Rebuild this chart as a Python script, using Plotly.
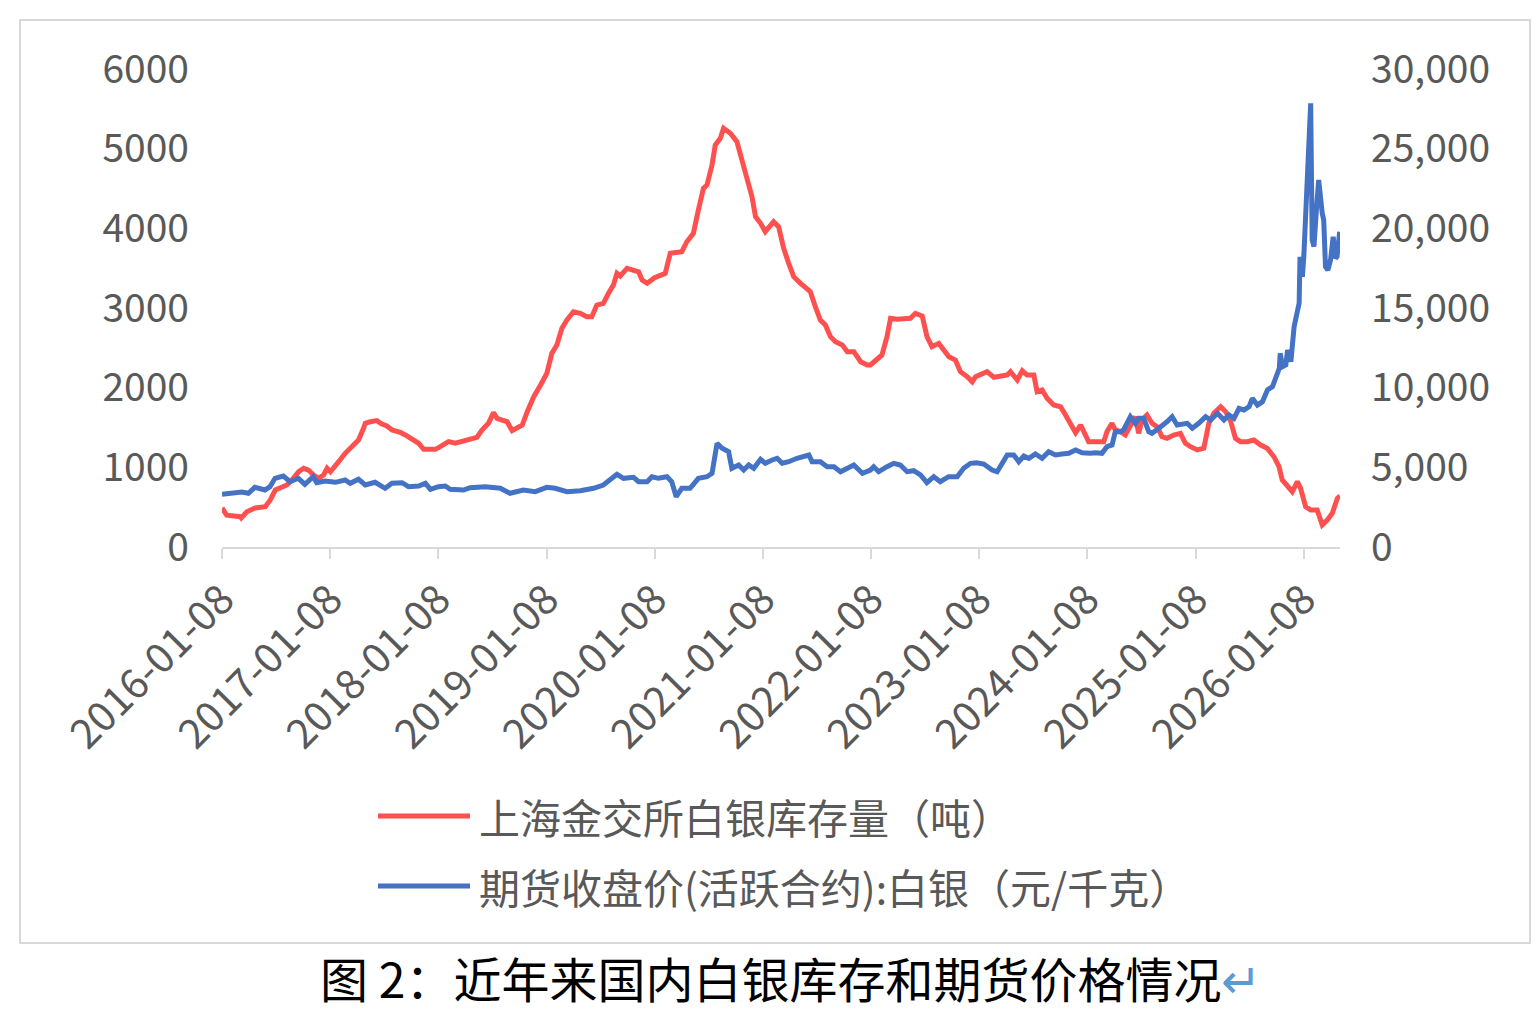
import plotly.graph_objects as go

# ---------------- data ----------------
inv_name = "上海金交所白银库存量（吨）"
price_name = "期货收盘价(活跃合约):白银（元/千克）"
caption = "图 2：近年来国内白银库存和期货价格情况"

inv_dates = [
    "2016-01-08", "2016-01-24", "2016-03-10", "2016-03-13", "2016-04-01", "2016-04-29", "2016-06-02",
    "2016-06-19", "2016-07-06", "2016-07-29", "2016-08-14", "2016-08-31", "2016-09-23", "2016-10-10",
    "2016-10-26", "2016-11-12", "2016-11-29", "2016-12-16", "2016-12-28",
    "2017-01-08", "2017-01-19", "2017-02-05", "2017-02-27", "2017-03-22", "2017-04-13", "2017-04-30",
    "2017-05-06", "2017-05-23", "2017-06-14", "2017-07-01", "2017-07-18", "2017-08-04", "2017-09-01",
    "2017-09-18", "2017-10-11", "2017-11-02", "2017-11-19", "2017-12-12", "2017-12-29",
    "2018-01-14", "2018-02-11", "2018-03-06", "2018-04-03", "2018-04-25", "2018-05-18", "2018-06-04",
    "2018-06-26", "2018-07-13", "2018-07-25", "2018-08-11", "2018-08-28", "2018-09-14", "2018-10-01",
    "2018-10-18", "2018-11-04", "2018-11-26", "2018-12-19",
    "2019-01-09", "2019-01-26", "2019-02-12", "2019-03-01", "2019-03-18", "2019-04-09", "2019-05-02",
    "2019-05-24", "2019-06-10", "2019-06-27", "2019-07-19", "2019-08-05", "2019-08-22", "2019-09-03",
    "2019-09-14", "2019-10-07", "2019-10-29", "2019-11-15", "2019-11-27", "2019-12-14",
    "2020-01-08", "2020-01-27", "2020-02-13", "2020-03-01", "2020-03-23", "2020-04-09", "2020-04-26",
    "2020-05-18", "2020-06-04", "2020-06-21", "2020-07-03", "2020-07-20", "2020-07-31", "2020-08-17",
    "2020-08-28", "2020-09-20", "2020-10-12", "2020-10-29", "2020-11-15", "2020-12-02", "2020-12-14",
    "2020-12-31",
    "2021-01-16", "2021-01-28", "2021-02-13", "2021-03-02", "2021-03-19", "2021-04-05", "2021-04-22",
    "2021-05-15", "2021-06-01", "2021-06-17", "2021-07-04", "2021-07-21", "2021-08-07", "2021-08-24",
    "2021-09-10", "2021-10-03", "2021-10-20", "2021-11-11", "2021-12-04", "2021-12-26",
    "2022-01-06", "2022-01-23", "2022-02-14", "2022-03-03", "2022-03-15", "2022-04-06", "2022-04-28",
    "2022-05-21", "2022-06-07", "2022-06-30", "2022-07-16", "2022-08-02", "2022-08-25", "2022-09-11",
    "2022-09-28", "2022-10-20", "2022-11-06", "2022-11-29", "2022-12-16", "2022-12-27",
    "2023-01-18", "2023-02-04", "2023-02-27", "2023-03-21", "2023-04-13", "2023-04-24", "2023-05-17",
    "2023-06-03", "2023-06-19", "2023-07-12", "2023-07-23", "2023-08-09", "2023-08-26", "2023-09-17",
    "2023-10-10", "2023-10-27", "2023-11-13", "2023-11-30", "2023-12-17",
    "2024-01-03", "2024-01-13", "2024-02-05", "2024-03-04", "2024-03-15", "2024-04-01", "2024-04-12",
    "2024-04-29", "2024-05-16", "2024-06-02", "2024-06-19", "2024-06-30", "2024-07-11", "2024-07-28",
    "2024-08-14", "2024-08-31", "2024-09-17", "2024-10-04", "2024-10-26", "2024-11-18", "2024-12-05",
    "2024-12-22",
    "2025-01-14", "2025-02-05", "2025-02-22", "2025-03-11", "2025-04-03", "2025-04-20", "2025-05-07",
    "2025-05-23", "2025-06-09", "2025-07-02", "2025-07-24", "2025-08-16", "2025-09-07", "2025-09-30",
    "2025-10-17", "2025-10-28", "2025-11-14", "2025-12-01", "2025-12-18", "2025-12-29",
    "2026-01-15", "2026-02-01", "2026-02-23", "2026-03-12", "2026-03-29", "2026-04-15", "2026-05-02",
    "2026-05-11",
]
inv_values = [
    490, 400, 380, 365, 443, 490, 506,
    590, 715, 750, 778, 841, 945, 988,
    966, 904, 862, 904, 988,
    945, 988, 1071, 1176, 1259, 1343, 1490,
    1553, 1573, 1586, 1544, 1519, 1469, 1440,
    1406, 1343, 1302, 1226, 1226, 1226,
    1259, 1322, 1302, 1330, 1364, 1377, 1469,
    1553, 1686, 1615, 1594, 1573, 1460, 1502,
    1531, 1698, 1886, 2033,
    2180, 2431, 2535, 2745, 2849, 2953, 2933,
    2891, 2891, 3037, 3058, 3184, 3289, 3435,
    3402, 3498, 3477, 3455, 3351, 3310,
    3380, 3414, 3435, 3686, 3707, 3707, 3832,
    3937, 4230, 4502, 4544, 4795, 5046, 5130,
    5255, 5193, 5088, 4836, 4607, 4397, 4146,
    4063,
    3958, 4020, 4083, 4020, 3749, 3561, 3393,
    3310, 3247, 3205, 3016, 2849, 2787, 2640,
    2577, 2535, 2452, 2452, 2326, 2285,
    2285, 2347, 2410, 2640, 2870, 2858, 2870,
    2870, 2933, 2899, 2640, 2514, 2556, 2472,
    2389, 2347, 2201, 2138, 2075, 2138,
    2171, 2201, 2130, 2138, 2159, 2201, 2096,
    2213, 2159, 2159, 1949, 1970, 1866, 1782,
    1761, 1657, 1531, 1435, 1531,
    1400, 1322, 1322, 1322, 1448, 1553, 1469,
    1448, 1406, 1510, 1636, 1427, 1594, 1657,
    1553, 1510, 1385, 1364, 1406, 1427, 1302,
    1259,
    1218, 1239, 1553, 1678, 1761, 1698, 1573,
    1364, 1322, 1322, 1343, 1280, 1239, 1133,
    1008, 841, 757, 694, 820, 736,
    506, 464, 464, 276, 339, 423, 611,
    640,
]

price_dates = [
    "2016-01-08", "2016-02-10", "2016-03-15", "2016-04-06", "2016-04-28", "2016-06-01", "2016-06-18",
    "2016-07-05", "2016-08-02", "2016-08-25", "2016-09-22", "2016-10-14", "2016-11-11", "2016-11-23",
    "2016-12-21",
    "2017-01-25", "2017-02-27", "2017-03-16", "2017-04-13", "2017-05-06", "2017-06-08", "2017-07-12",
    "2017-08-04", "2017-09-07", "2017-09-29", "2017-11-02", "2017-11-25", "2017-12-12",
    "2018-01-08", "2018-01-31", "2018-02-17", "2018-04-03", "2018-04-25", "2018-06-15", "2018-08-05",
    "2018-09-07", "2018-10-22", "2018-12-01",
    "2019-01-09", "2019-02-06", "2019-03-18", "2019-05-02", "2019-06-16", "2019-07-19", "2019-08-17",
    "2019-09-03", "2019-09-25", "2019-10-29", "2019-11-15", "2019-12-14", "2019-12-30",
    "2020-01-21", "2020-02-19", "2020-03-06", "2020-03-21", "2020-04-09", "2020-05-07", "2020-06-04",
    "2020-07-03", "2020-07-20", "2020-08-06", "2020-08-23", "2020-09-14", "2020-09-25", "2020-10-18",
    "2020-11-04", "2020-11-21", "2020-12-08", "2020-12-31",
    "2021-01-16", "2021-02-08", "2021-02-25", "2021-03-14", "2021-04-05", "2021-05-03", "2021-05-26",
    "2021-06-12", "2021-06-23", "2021-07-21", "2021-08-13", "2021-09-05", "2021-09-27", "2021-10-25",
    "2021-11-11", "2021-12-10",
    "2022-01-06", "2022-01-17", "2022-02-03", "2022-03-03", "2022-03-26", "2022-04-17", "2022-05-10",
    "2022-06-01", "2022-06-24", "2022-07-16", "2022-08-08", "2022-08-30", "2022-09-27", "2022-10-26",
    "2022-11-17", "2022-12-10", "2022-12-31",
    "2023-01-24", "2023-02-21", "2023-03-10", "2023-03-27", "2023-04-13", "2023-05-05", "2023-05-22",
    "2023-06-08", "2023-06-25", "2023-07-17", "2023-08-09", "2023-08-31", "2023-09-23", "2023-10-15",
    "2023-11-07", "2023-11-30", "2023-12-22",
    "2024-01-19", "2024-02-05", "2024-02-27", "2024-03-15", "2024-04-01", "2024-04-12", "2024-04-29",
    "2024-05-10", "2024-06-02", "2024-06-19", "2024-06-30", "2024-07-17", "2024-08-03", "2024-08-14",
    "2024-09-06", "2024-09-23", "2024-10-04", "2024-10-21", "2024-11-07", "2024-12-11", "2024-12-28",
    "2025-01-19", "2025-02-11", "2025-02-28", "2025-03-23", "2025-04-14", "2025-05-01", "2025-05-18",
    "2025-06-04", "2025-06-21", "2025-07-08", "2025-07-19", "2025-08-05", "2025-08-22", "2025-09-08",
    "2025-09-25", "2025-10-06", "2025-10-18", "2025-10-21", "2025-10-29", "2025-11-09", "2025-11-15",
    "2025-11-26", "2025-12-07", "2025-12-19", "2025-12-24", "2025-12-27",
    "2026-01-04", "2026-01-09", "2026-01-18", "2026-02-01", "2026-02-06", "2026-02-12", "2026-02-21",
    "2026-02-28", "2026-03-12", "2026-03-17", "2026-03-23", "2026-03-31", "2026-04-09", "2026-04-18",
    "2026-04-26", "2026-05-01", "2026-05-10",
]
price_values = [
    3307, 3408, 3452, 3370, 3747, 3577, 3785,
    4311, 4456, 4098, 4311, 3935, 4412, 4036,
    4142,
    4060, 4205, 3998, 4249, 3891, 4060, 3684,
    3998, 4036, 3785, 3829, 3998, 3621,
    3785, 3829, 3621, 3577, 3722, 3785, 3684,
    3370, 3577, 3471,
    3747, 3684, 3471, 3533, 3684, 3891, 4311,
    4562, 4311, 4374, 4098, 4098, 4412,
    4311, 4412, 4098, 3157, 3684, 3684, 4311,
    4412, 4625, 6508, 6194, 5981, 4939, 5146,
    4832, 5146, 4939, 5504,
    5253, 5460, 5567, 5253, 5354, 5567, 5667,
    5774, 5354, 5354, 5040, 5040, 4726, 4939,
    5146, 4625,
    4832, 5040, 4726, 5040, 5253, 5146, 4726,
    4789, 4519, 4036, 4412, 4098, 4412, 4412,
    4939, 5253, 5291,
    5209, 4832, 4726, 5253, 5774, 5774, 5354,
    5711, 5567, 5837, 5567, 5981, 5774, 5837,
    5881, 6088, 5918,
    5881, 5918, 5881, 6295, 6402, 7236, 7236,
    7343, 8178, 7763, 8077, 8077, 7236, 7136,
    7449, 7656, 7863, 8178, 7656, 7763, 7449,
    7763, 8178, 7970, 8391, 7970, 8284, 8077,
    8705, 8598, 8805, 9333, 8912, 9119, 9853,
    10060, 10688, 11215, 12157, 11316, 11422, 12364,
    11630, 13826, 14874, 15295, 18219,
    16964, 18326, 22197, 27846, 19267, 18847, 21357,
    23033, 20943, 20523, 17592, 17385, 18012, 19474,
    18119, 18219, 19788,
]

tick_dates = ["%d-01-08" % y for y in range(2016, 2027)]
left_ticks = [0, 1000, 2000, 3000, 4000, 5000, 6000]
right_ticks = [0, 5000, 10000, 15000, 20000, 25000, 30000]

# ---------------- styling ----------------
RED = "#FF5050"
BLUE = "#4472C4"
GREY_TXT = "#595959"
AXIS = "#D9D9D9"
FONT = "Noto Sans CJK SC, Liberation Sans, sans-serif"

fig = go.Figure()
fig.add_trace(go.Scatter(x=inv_dates, y=inv_values, name=inv_name, mode="lines",
                         line=dict(color=RED, width=5), yaxis="y"))
fig.add_trace(go.Scatter(x=price_dates, y=price_values, name=price_name, mode="lines",
                         line=dict(color=BLUE, width=5), yaxis="y2"))

W, H = 1536, 1014
L, R, T, B = 222, 1340, 69, 547
pw, ph = R - L, B - T

def px(x):
    return (x - L) / pw

def py(y):
    return (B - y) / ph

fig.update_layout(
    width=W, height=H,
    margin=dict(l=L, r=W - R, t=T, b=H - B, pad=0),
    paper_bgcolor="white", plot_bgcolor="white",
    showlegend=False,
    font=dict(family=FONT, color=GREY_TXT, size=39),
    xaxis=dict(
        type="date",
        range=[inv_dates[0], inv_dates[-1]],
        tickvals=tick_dates, ticktext=tick_dates,
        tickangle=-45,
        ticks="outside", ticklen=10, tickcolor=AXIS, tickwidth=2,
        showline=True, linecolor=AXIS, linewidth=2,
        showgrid=False, zeroline=False,
        tickfont=dict(size=41, color=GREY_TXT),
    ),
    yaxis=dict(
        range=[0, 6000], tickvals=left_ticks, tickformat="d",
        showgrid=False, zeroline=False, showline=False, ticks="",
        ticklabelstandoff=32,
        tickfont=dict(size=39, color=GREY_TXT),
    ),
    yaxis2=dict(
        range=[0, 30000], tickvals=right_ticks, tickformat=",d",
        overlaying="y", side="right",
        showgrid=False, zeroline=False, showline=False, ticks="",
        ticklabelstandoff=30,
        tickfont=dict(size=39, color=GREY_TXT),
    ),
)

# outer chart border
fig.add_shape(type="rect", xref="paper", yref="paper",
              x0=px(20), x1=px(1530), y0=py(943), y1=py(20),
              line=dict(color=AXIS, width=2), fillcolor="rgba(0,0,0,0)", layer="below")

# manual legend
for name, color, yy in [(inv_name, RED, 816), (price_name, BLUE, 886)]:
    fig.add_shape(type="line", xref="paper", yref="paper",
                  x0=px(378), x1=px(470), y0=py(yy), y1=py(yy),
                  line=dict(color=color, width=5))
    fig.add_annotation(xref="paper", yref="paper", x=px(477), y=py(yy),
                       xanchor="left", yanchor="middle", showarrow=False,
                       text=name, font=dict(size=41, color=GREY_TXT, family=FONT))

# caption
fig.add_annotation(xref="paper", yref="paper", x=px(790), y=py(977),
                   xanchor="center", yanchor="middle", showarrow=False, borderpad=0,
                   text=caption + '<span style="color:#5B9BD5">↵</span>',
                   font=dict(size=48, color="#000000", family=FONT))

fig.write_html("out.html")
